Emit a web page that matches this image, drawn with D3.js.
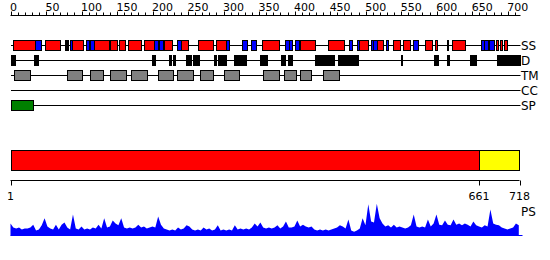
<!DOCTYPE html>
<html>
<head>
<meta charset="utf-8">
<script src="https://cdn.jsdelivr.net/npm/d3@7"></script>
<style>
  html, body { margin: 0; padding: 0; background: #fff; }
  svg { display: block; }
  text { font-family: "DejaVu Sans", Verdana, sans-serif; fill: #000; }
</style>
</head>
<body>
<svg id="chart" width="550" height="260"></svg>
<script>
// ---------------- data ----------------
const seqLength = 718;
const trackNames = ["SS", "D", "TM", "CC", "SP"];
const topTicks = d3.range(0, 720, 10);
const topTickLabels = d3.range(0, 701, 50);
const ssHelix = [[3,34],[49,70],[77,78],[80,81],[87,102],[117,138],[140,150],[153,162],[166,185],[188,202],[216,227],[239,250],[264,285],[289,303],[354,378],[407,428],[447,469],[491,504],[516,525],[539,549],[552,562],[583,593],[597,600],[614,615],[621,639],[684,687],[689,692],[695,699]];
const ssStrand = [[34,43],[84,87],[106,110],[112,117],[202,207],[209,214],[234,239],[303,307],[326,333],[338,345],[386,391],[392,396],[401,407],[477,481],[488,491],[507,511],[511,516],[529,532],[566,573],[662,666],[667,673],[674,681]];
const disorder = [[0,6],[33,38],[199,201],[202,204],[223,226],[229,232],[247,254],[257,266],[286,289],[292,303],[314,326],[329,332],[351,361],[381,386],[390,396],[428,455],[461,489],[550,552],[596,601],[614,617],[647,655],[685,718]];
const tmSegments = [[5,28],[79,100],[112,131],[140,162],[169,192],[207,228],[235,257],[267,286],[300,321],[356,378],[385,402],[408,423],[440,463]];
const ccSegments = [];
const spSegments = [[0,31]];
const domainBounds = [1, 661, 718];
const bottomTickLabels = [1, 661, 718];
const psStep = 4; // residues between samples, starting at residue 1
const psValues = [
0.34,0.23,0.20,0.23,0.17,0.20,0.20,0.23,0.31,0.14,
0.17,0.29,0.49,0.26,0.20,0.17,0.31,0.17,0.31,0.37,
0.23,0.17,0.60,0.20,0.17,0.26,0.17,0.20,0.17,0.23,
0.20,0.31,0.20,0.49,0.23,0.26,0.43,0.34,0.29,0.49,
0.23,0.20,0.23,0.20,0.23,0.31,0.23,0.26,0.20,0.23,
0.26,0.23,0.54,0.31,0.20,0.17,0.14,0.17,0.14,0.23,
0.17,0.20,0.29,0.26,0.17,0.14,0.17,0.14,0.23,0.17,
0.20,0.14,0.17,0.29,0.14,0.17,0.14,0.17,0.14,0.29,
0.17,0.20,0.17,0.20,0.17,0.23,0.34,0.26,0.37,0.23,
0.20,0.23,0.20,0.23,0.29,0.20,0.26,0.40,0.23,0.23,
0.26,0.43,0.26,0.31,0.26,0.23,0.26,0.17,0.14,0.17,
0.14,0.17,0.14,0.17,0.20,0.23,0.29,0.26,0.20,0.46,
0.14,0.11,0.14,0.20,0.49,0.29,0.89,0.40,0.37,0.91,
0.49,0.34,0.26,0.29,0.23,0.31,0.23,0.26,0.23,0.20,
0.23,0.29,0.60,0.26,0.23,0.26,0.23,0.46,0.26,0.34,
0.60,0.31,0.29,0.43,0.31,0.29,0.46,0.31,0.34,0.29,
0.34,0.31,0.26,0.40,0.29,0.26,0.23,0.29,0.26,0.74,
0.34,0.31,0.29,0.23,0.20,0.17,0.20,0.23,0.34,0.29
];

// ---------------- layout ----------------
const svg = d3.select("#chart");
const x = d3.scaleLinear().domain([0, seqLength]).range([10.5, 520.5]);
const xb = d3.scaleLinear().domain([1, seqLength]).range([10.5, 519.5]);
const rowY = d3.scalePoint().domain(trackNames).range([45.5, 105.5]);
const boxH = 10;
const lineX0 = 11, lineX1 = 520.5;

// top ruler
const axisY = 15.5;
const ruler = svg.append("g");
ruler.append("line").attr("x1", x(0)).attr("x2", x(seqLength))
  .attr("y1", axisY).attr("y2", axisY).attr("stroke", "#000");
ruler.selectAll("line.tick").data(topTicks).join("line")
  .attr("class", "tick")
  .attr("x1", d => Math.round(x(d)) + 0.5).attr("x2", d => Math.round(x(d)) + 0.5)
  .attr("y1", d => d % 50 === 0 ? axisY - 4 : axisY - 3).attr("y2", axisY)
  .attr("stroke", "#000");
ruler.selectAll("text").data(topTickLabels).join("text")
  .attr("x", d => x(d) - 0.5).attr("y", 10.5)
  .attr("font-size", 11).text(d => d);

// tracks
function track(name, segs, fill) {
  const y = rowY(name);
  const g = svg.append("g");
  g.append("line").attr("x1", lineX0).attr("x2", lineX1)
    .attr("y1", y).attr("y2", y).attr("stroke", "#000");
  g.selectAll("rect").data(segs).join("rect")
    .attr("x", d => Math.round(x(d[0])) + 0.5)
    .attr("width", d => Math.max(1, Math.round(x(d[1]) - x(d[0]))))
    .attr("y", y - boxH / 2).attr("height", boxH)
    .attr("fill", fill).attr("stroke", "#000").attr("stroke-width", 1);
  g.append("text").attr("x", 521).attr("y", y + 4.5)
    .attr("font-size", 12).text(name);
  return g;
}
const ssG = track("SS", ssHelix, "#ff0000");
ssG.selectAll("rect.strand").data(ssStrand).join("rect")
  .attr("class", "strand")
  .attr("x", d => Math.round(x(d[0])) + 0.5)
  .attr("width", d => Math.max(1, Math.round(x(d[1]) - x(d[0]))))
  .attr("y", rowY("SS") - boxH / 2).attr("height", boxH)
  .attr("fill", "#0000ff").attr("stroke", "#000");
track("D", disorder, "#000000");
track("TM", tmSegments, "#808080");
track("CC", ccSegments, "#ffff00");
track("SP", spSegments, "#008000");

// domain bar
const domainColors = ["#ff0000", "#ffff00"];
const doms = d3.pairs(domainBounds);
svg.append("g").selectAll("rect").data(doms).join("rect")
  .attr("x", d => Math.round(xb(d[0])) + 0.5)
  .attr("width", d => Math.round(xb(d[1]) - xb(d[0])))
  .attr("y", 150.5).attr("height", 20)
  .attr("fill", (d, i) => domainColors[i]).attr("stroke", "#000");

// bottom ruler
const by = 180.5;
const bot = svg.append("g");
bot.append("line").attr("x1", xb(1)).attr("x2", xb(seqLength))
  .attr("y1", by).attr("y2", by).attr("stroke", "#000");
bot.selectAll("line.t").data(bottomTickLabels).join("line").attr("class", "t")
  .attr("x1", d => Math.round(xb(d)) + 0.5).attr("x2", d => Math.round(xb(d)) + 0.5)
  .attr("y1", by).attr("y2", by + 5).attr("stroke", "#000");
bot.selectAll("text").data(bottomTickLabels).join("text")
  .attr("x", d => xb(d)).attr("y", 200).attr("text-anchor", "middle")
  .attr("font-size", 11).text(d => d);

// PS profile
const psData = psValues.map((v, i) => ({ r: 1 + i * psStep, v }));
const yPs = d3.scaleLinear().domain([0, 1]).range([235.5, 200.5]);
const area = d3.area().x(d => xb(d.r)).y0(yPs(0)).y1(d => yPs(d.v));
svg.append("path").datum(psData).attr("d", area).attr("fill", "#0000ff");
svg.append("line").attr("x1", xb(1)).attr("x2", xb(seqLength) + 3)
  .attr("y1", yPs(0)).attr("y2", yPs(0)).attr("stroke", "#0000ff");
svg.append("text").attr("x", 521).attr("y", 216).attr("font-size", 12).text("PS");
</script>
</body>
</html>
